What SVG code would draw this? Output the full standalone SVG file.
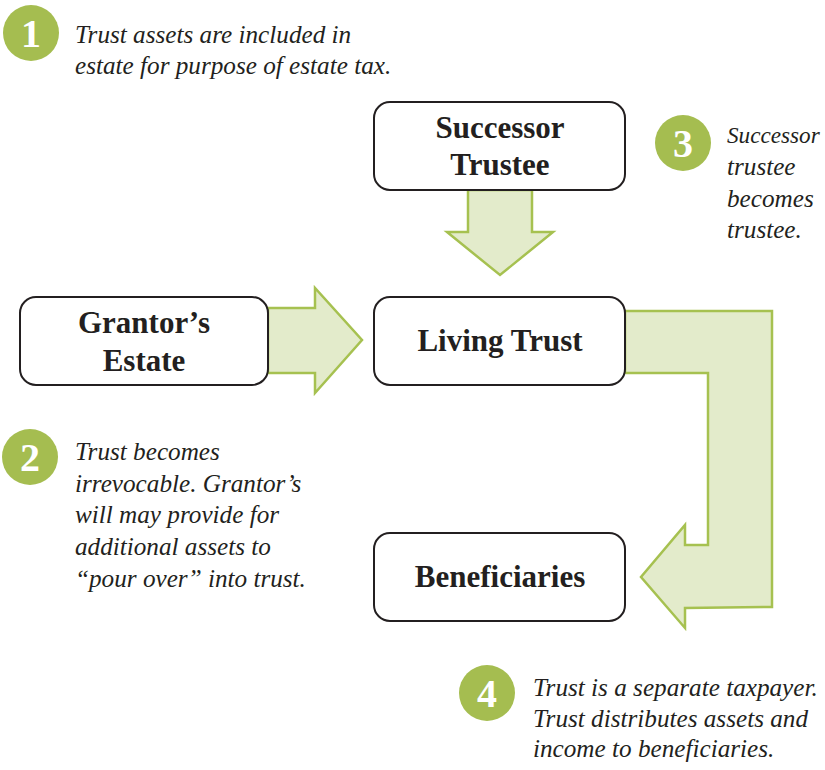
<svg xmlns="http://www.w3.org/2000/svg" width="825" height="770" viewBox="0 0 825 770">
<style>
.box{fill:#fff;stroke:#231f20;stroke-width:2}
.lbl{font-family:"Liberation Serif",serif;font-weight:bold;font-size:31px;fill:#231f20;text-anchor:middle}
.arr{fill:#e3ebcb;stroke:#a6c150;stroke-width:2.5;stroke-linejoin:miter}
.dot{fill:#a5bd50}
.num{font-family:"Liberation Serif",serif;font-weight:bold;font-size:40px;fill:#fff;text-anchor:middle}
.note{font-family:"Liberation Serif",serif;font-style:italic;font-size:25.2px;fill:#231f20}
</style>
<rect width="825" height="770" fill="#fff"/>
<g id="connectors">
<path class="arr" d="M468,190 L532,190 L532,232 L553,232 L500,275 L447,232 L468,232 Z"/>
<path class="arr" d="M268,308 L315,308 L315,288 L362,340 L315,393 L315,373 L268,373 Z"/>
<path class="arr" d="M625,311 L772,311 L772,607 L685,608 L685,628 L641,577 L685,525 L685,545 L708,545 L708,373 L625,373 Z"/>
</g>
<g id="successor-trustee">
<rect class="box" x="374" y="102" width="251" height="88" rx="16"/>
<text class="lbl" x="500" y="138">Successor</text>
<text class="lbl" x="500" y="175">Trustee</text>
</g>
<g id="grantors-estate">
<rect class="box" x="20" y="297" width="248" height="88" rx="16"/>
<text class="lbl" x="144" y="333">Grantor’s</text>
<text class="lbl" x="144" y="371">Estate</text>
</g>
<g id="living-trust">
<rect class="box" x="374" y="297" width="251" height="88" rx="16"/>
<text class="lbl" x="500" y="351">Living Trust</text>
</g>
<g id="beneficiaries">
<rect class="box" x="374" y="533" width="251" height="88" rx="16"/>
<text class="lbl" x="500" y="587">Beneficiaries</text>
</g>
<g id="note1">
<circle class="dot" cx="31" cy="33" r="28"/>
<text class="num" x="31" y="47">1</text>
<text class="note" x="75" y="43">Trust assets are included in</text>
<text class="note" x="75" y="74">estate for purpose of estate tax.</text>
</g>
<g id="note2">
<circle class="dot" cx="30" cy="457" r="28"/>
<text class="num" x="30" y="471">2</text>
<text class="note" x="75" y="460">Trust becomes</text>
<text class="note" x="75" y="492">irrevocable. Grantor’s</text>
<text class="note" x="75" y="523">will may provide for</text>
<text class="note" x="75" y="555">additional assets to</text>
<text class="note" x="75" y="587">“pour over” into trust.</text>
</g>
<g id="note3">
<circle class="dot" cx="683" cy="143" r="28"/>
<text class="num" x="683" y="157">3</text>
<text class="note" x="727" y="143" style="font-size:23.2px">Successor</text>
<text class="note" x="727" y="175">trustee</text>
<text class="note" x="727" y="207">becomes</text>
<text class="note" x="727" y="238">trustee.</text>
</g>
<g id="note4">
<circle class="dot" cx="487" cy="693" r="28"/>
<text class="num" x="487" y="707">4</text>
<text class="note" x="533" y="696">Trust is a separate taxpayer.</text>
<text class="note" x="533" y="727">Trust distributes assets and</text>
<text class="note" x="533" y="757">income to beneficiaries.</text>
</g>
</svg>
